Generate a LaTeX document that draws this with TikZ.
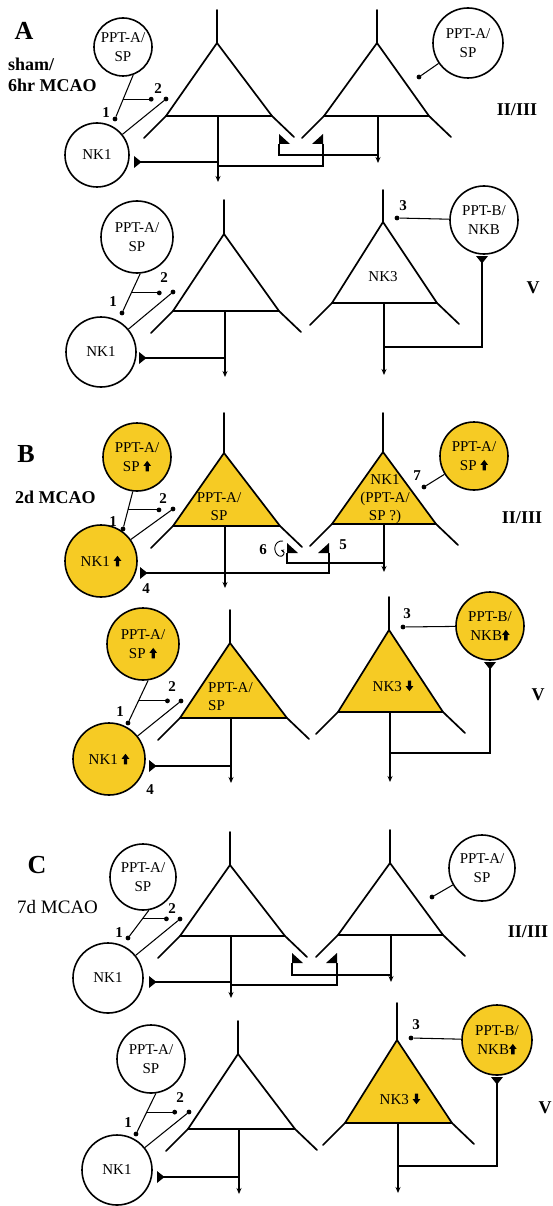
\documentclass[tikz,border=0pt]{standalone}
\usepackage{fontspec}
\setmainfont{Liberation Serif}
\usetikzlibrary{arrows.meta,calc}
\definecolor{cellyellow}{RGB}{246,203,36}

% small block arrows used inside labels
\newcommand\arrup{\tikz[baseline=0pt,x=1pt,y=1pt]\fill (-1.7,0) -- (-1.7,5.5) -- (-3.8,5.5) -- (0,10.5) -- (3.8,5.5) -- (1.7,5.5) -- (1.7,0) -- cycle;}
\newcommand\arrdn{\tikz[baseline=0pt,x=1pt,y=1pt]\fill (-1.7,10.5) -- (-1.7,5) -- (-3.8,5) -- (0,0) -- (3.8,5) -- (1.7,5) -- (1.7,10.5) -- cycle;}

% pyramidal cell: name, apex x, apex y, stem top y, base y, base left x, base right x, fill
\newcommand\pyrcell[8]{%
  \coordinate (#1-apex) at (#2,#3);
  \coordinate (#1-top) at (#2,#4);
  \coordinate (#1-bl) at (#6,#5);
  \coordinate (#1-br) at (#7,#5);
  \coordinate (#1-ax) at (#2+1,#5);
  \fill[#8] (#1-apex) -- (#1-bl) -- (#1-br) -- cycle;
  \draw[cellline] (#1-top) -- (#1-apex);
  \draw[cellline] ($(#1-bl)+(-22,22)$) -- (#1-bl) -- (#1-apex) -- (#1-br) -- ($(#1-br)+(22,21)$);
  \draw[cellline] (#1-bl) -- (#1-br);
}

\tikzset{
  cellline/.style={line width=1.7pt, line cap=round, line join=miter},
  conn/.style={line width=1.05pt},
  axon/.style={line width=1.05pt,-{Stealth[length=6pt,width=5pt]}},
  nucleus/.style={circle,draw,line width=1.6pt,inner sep=0pt,align=center,font=\fontsize{15}{19}\selectfont},
  yfill/.style={fill=cellyellow},
  dot/.style={circle,fill,inner sep=0pt,minimum size=4.8pt},
  num/.style={font=\fontsize{15}{15}\selectfont\bfseries,inner sep=0pt},
  layer/.style={font=\fontsize{18}{18}\selectfont\bfseries,inner sep=0pt},
  panel/.style={font=\fontsize{26}{26}\selectfont\bfseries,inner sep=0pt},
  cond/.style={font=\fontsize{19}{21}\selectfont,inner sep=0pt,align=left,anchor=west},
  condb/.style={font=\fontsize{18}{21}\selectfont\bfseries,inner sep=0pt,align=left,anchor=west},
  celltext/.style={font=\fontsize{15}{18}\selectfont,inner sep=0pt,align=center},
  termR/.pic={\fill (0,-6) -- (7.5,0) -- (0,6) -- cycle;},
  termD/.pic={\fill (-6,0) -- (6,0) -- (0,7.5) -- cycle;},
  termSW/.pic={\fill (0,-10) -- (0,0) -- (11,0) -- cycle;},
  termSE/.pic={\fill (0,-10) -- (0,0) -- (-11,0) -- cycle;},
}

\begin{document}
\begin{tikzpicture}[x=1pt,y=-1pt]
\useasboundingbox (0,0) rectangle (552,1206);

% ================= A : sham / 6hr MCAO =================
\node[panel] (labA) at (24,31) {A};
\node[condb] (condA) at (8,75) {sham/\\6hr MCAO};

% layer II/III
\pyrcell{cA1}{217}{43}{10}{116}{166}{272}{fill=none}
\pyrcell{cA2}{377}{43}{10}{116}{324}{429}{fill=none}
\node[nucleus,minimum size=58pt] (pA1) at (123,47) {PPT-A/\\SP};
\node[nucleus,minimum size=64pt] (nA1) at (97,155) {NK1};
\node[nucleus,minimum size=70pt] (pA2) at (468,43) {PPT-A/\\SP};

\node[dot] (dA1) at (115,119) {};
\draw[conn] (pA1.290) -- (dA1);
\coordinate (jA1) at ($(pA1.290)!0.55!(dA1)$);
\draw[conn] (jA1) -- ++(28,0) node[dot] (dA2) {};
\node[dot] (dA3) at (166,99) {};
\draw[conn] (nA1) -- (dA3);
\node[num] (nmA1) at (106,113) {1};
\node[num] (nmA2) at (158,89) {2};

\draw[axon] (cA1-ax) -- ++(0,66);
\draw[axon] (cA2-ax) -- ++(0,47);
\coordinate (tA1) at (134,162);
\pic at (tA1) {termR};
\draw[conn] (tA1) -| (cA1-ax);
\coordinate (kA1) at (279,144);
\pic at (kA1) {termSW};
\draw[conn] (kA1) -- ++(0,11) -| (cA2-ax);
\coordinate (kA2) at (323,144);
\pic at (kA2) {termSE};
\draw[conn] (kA2) -- ++(0,22) -| (cA1-ax);

\node[dot] (dA4) at (419,77) {};
\draw[conn] (pA2) -- (dA4);
\node[layer] (lyA1) at (517,110) {II/III};

% layer V
\pyrcell{cA3}{224}{234}{200}{311}{173}{279}{fill=none}
\pyrcell{cA4}{383}{222}{190}{303}{332}{437}{fill=none}
\node[celltext] (cA4t) at (383,277) {NK3};
\node[nucleus,minimum size=72pt] (pA3) at (137,237) {PPT-A/\\SP};
\node[nucleus,minimum size=70pt] (nA3) at (101,352) {NK1};

\node[dot] (dA5) at (122,313) {};
\draw[conn] (pA3.275) -- (dA5);
\coordinate (jA3) at ($(pA3.275)!0.49!(dA5)$);
\draw[conn] (jA3) -- ++(28,0) node[dot] (dA6) {};
\node[dot] (dA7) at (173,292) {};
\draw[conn] (nA3) -- (dA7);
\node[num] (nmA3) at (113,302) {1};
\node[num] (nmA4) at (164,278) {2};

\draw[axon] (cA3-ax) -- ++(0,66);
\coordinate (tA3) at (139,358);
\pic at (tA3) {termR};
\draw[conn] (tA3) -| (cA3-ax);

\draw[axon] (cA4-ax) -- ++(0,72);
\node[dot] (dA8) at (397,218) {};
\node[nucleus,minimum size=68pt] (pA4) at (484,220) {PPT-B/\\NKB};
\draw[conn] (dA8) -- (pA4);
\node[num] (nmA5) at (403,206) {3};
\coordinate (tA4) at (482,256);
\pic at (tA4) {termD};
\draw[conn] (tA4) -- ++(0,91) -| (cA4-ax);
\node[layer] (lyA2) at (533,288) {V};

% ================= B : 2d MCAO =================
\node[panel] (labB) at (26,454) {B};
\node[condb] (condB) at (15,497) {2d MCAO};

% layer II/III
\pyrcell{cB1}{224}{453}{413}{526}{173}{280}{yfill}
\pyrcell{cB2}{383}{452}{413}{524}{332}{436}{yfill}
\node[celltext] (cB1t) at (219,507) {PPT-A/\\SP};
\node[celltext] (cB2t) at (385,499) {NK1\\(PPT-A/\\SP ?)};
\node[nucleus,yfill,minimum size=68pt] (pB1) at (137,457) {PPT-A/\\SP~\arrup};
\node[nucleus,yfill,minimum size=72pt] (nB1) at (101,561) {NK1~\arrup};

\node[dot] (dB1) at (123,529) {};
\draw[conn] (pB1.263) -- (dB1);
\coordinate (jB1) at ($(pB1.263)!0.49!(dB1)$);
\draw[conn] (jB1) -- ++(31,0) node[dot] (dB2) {};
\node[dot] (dB3) at (173,509) {};
\draw[conn] (nB1) -- (dB3);
\node[num] (nmB1) at (113,522) {1};
\node[num] (nmB2) at (163,499) {2};

\draw[axon] (cB1-ax) -- ++(0,62);
\draw[axon] (cB2-ax) -- ++(0,48);
\coordinate (tB1) at (140,573);
\pic at (tB1) {termR};
\draw[conn] (tB1) -| (cB1-ax);
\node[num] (nmB3) at (146,589) {4};
\coordinate (kB1) at (287,553);
\pic at (kB1) {termSW};
\draw[conn] (kB1) -- ++(0,10) -| (cB2-ax);
\coordinate (kB2) at (329,553);
\pic at (kB2) {termSE};
\draw[conn] (kB2) -- ++(0,20) -| (cB1-ax);
\node[num] (nmB4) at (263,550) {6};
\draw[line width=0.9pt,-{Stealth[length=3pt,width=3.2pt]}] (283,541) .. controls (274,540) and (272,552) .. (279,556) .. controls (283,558) and (286,552) .. (281,550);
\node[num] (nmB5) at (343,545) {5};

\node[nucleus,yfill,minimum size=68pt] (pB2) at (474,456) {PPT-A/\\SP~\arrup};
\node[dot] (dB4) at (424,487) {};
\draw[conn] (pB2) -- (dB4);
\node[num] (nmB6) at (417,476) {7};
\node[layer] (lyB1) at (522,518) {II/III};

% layer V
\pyrcell{cB3}{230}{643}{610}{718}{180}{287}{yfill}
\pyrcell{cB4}{389}{630}{597}{712}{338}{443}{yfill}
\node[celltext,align=left,anchor=west] (cB3t) at (208,697) {PPT-A/\\SP};
\node[celltext] (cB4t) at (393,686) {NK3~\arrdn};
\node[nucleus,yfill,minimum size=72pt] (pB3) at (143,644) {PPT-A/\\SP~\arrup};
\node[nucleus,yfill,minimum size=72pt] (nB3) at (109,759) {NK1~\arrup};

\node[dot] (dB5) at (128,723) {};
\draw[conn] (pB3.278) -- (dB5);
\coordinate (jB3) at ($(pB3.278)!0.48!(dB5)$);
\draw[conn] (jB3) -- ++(29,0) node[dot] (dB6) {};
\node[dot] (dB7) at (181,701) {};
\draw[conn] (nB3) -- (dB7);
\node[num] (nmB7) at (120,712) {1};
\node[num] (nmB8) at (172,687) {2};

\draw[axon] (cB3-ax) -- ++(0,65);
\coordinate (tB3) at (149,766);
\pic at (tB3) {termR};
\draw[conn] (tB3) -| (cB3-ax);
\node[num] (nmB9) at (150,790) {4};

\draw[axon] (cB4-ax) -- ++(0,70);
\node[dot] (dB8) at (403,627) {};
\node[nucleus,yfill,minimum size=68pt] (pB4) at (490,626) {PPT-B/\\NKB\arrup};
\draw[conn] (dB8) -- (pB4);
\node[num] (nmB10) at (407,614) {3};
\coordinate (tB4) at (490,662);
\pic at (tB4) {termD};
\draw[conn] (tB4) -- ++(0,91) -| (cB4-ax);
\node[layer] (lyB2) at (538,695) {V};

% ================= C : 7d MCAO =================
\node[panel] (labC) at (37,865) {C};
\node[cond] (condC) at (17,907) {7d MCAO};

% layer II/III
\pyrcell{cC1}{230}{865}{832}{936}{180}{285}{fill=none}
\pyrcell{cC2}{390}{863}{830}{935}{338}{443}{fill=none}
\node[nucleus,minimum size=66pt] (pC1) at (143,877) {PPT-A/\\SP};
\node[nucleus,minimum size=70pt] (nC1) at (108,978) {NK1};

\node[dot] (dC1) at (128,938) {};
\draw[conn] (pC1.280) -- (dC1);
\coordinate (jC1) at ($(pC1.280)!0.31!(dC1)$);
\draw[conn] (jC1) -- ++(24,0) node[dot] (dC2) {};
\node[dot] (dC3) at (180,919) {};
\draw[conn] (nC1) -- (dC3);
\node[num] (nmC1) at (119,933) {1};
\node[num] (nmC2) at (172,909) {2};

\draw[axon] (cC1-ax) -- ++(0,62);
\draw[axon] (cC2-ax) -- ++(0,47);
\coordinate (tC1) at (149,982);
\pic at (tC1) {termR};
\draw[conn] (tC1) -| (cC1-ax);
\coordinate (kC1) at (292,963);
\pic at (kC1) {termSW};
\draw[conn] (kC1) -- ++(0,12) -| (cC2-ax);
\coordinate (kC2) at (337,963);
\pic at (kC2) {termSE};
\draw[conn] (kC2) -- ++(0,22) -| (cC1-ax);

\node[nucleus,minimum size=66pt] (pC2) at (482,868) {PPT-A/\\SP};
\node[dot] (dC4) at (432,897) {};
\draw[conn] (pC2) -- (dC4);
\node[layer] (lyC1) at (528,932) {II/III};

% layer V
\pyrcell{cC3}{238}{1054}{1021}{1129}{188}{295}{fill=none}
\pyrcell{cC4}{397}{1040}{1003}{1123}{345}{452}{yfill}
\node[celltext] (cC4t) at (400,1099) {NK3~\arrdn};
\node[nucleus,minimum size=68pt] (pC3) at (151,1059) {PPT-A/\\SP};
\node[nucleus,minimum size=70pt] (nC3) at (117,1170) {NK1};

\node[dot] (dC5) at (136,1134) {};
\draw[conn] (pC3.278) -- (dC5);
\coordinate (jC3) at ($(pC3.278)!0.46!(dC5)$);
\draw[conn] (jC3) -- ++(28,0) node[dot] (dC6) {};
\node[dot] (dC7) at (189,1112) {};
\draw[conn] (nC3) -- (dC7);
\node[num] (nmC3) at (128,1123) {1};
\node[num] (nmC4) at (180,1098) {2};

\draw[axon] (cC3-ax) -- ++(0,65);
\coordinate (tC3) at (157,1177);
\pic at (tC3) {termR};
\draw[conn] (tC3) -| (cC3-ax);

\draw[axon] (cC4-ax) -- ++(0,70);
\node[dot] (dC8) at (411,1038) {};
\node[nucleus,yfill,minimum size=70pt] (pC4) at (497,1040) {PPT-B/\\NKB\arrup};
\draw[conn] (dC8) -- (pC4);
\node[num] (nmC5) at (416,1025) {3};
\coordinate (tC4) at (497,1077);
\pic at (tC4) {termD};
\draw[conn] (tC4) -- ++(0,89) -| (cC4-ax);
\node[layer] (lyC2) at (545,1108) {V};

\end{tikzpicture}
\end{document}
